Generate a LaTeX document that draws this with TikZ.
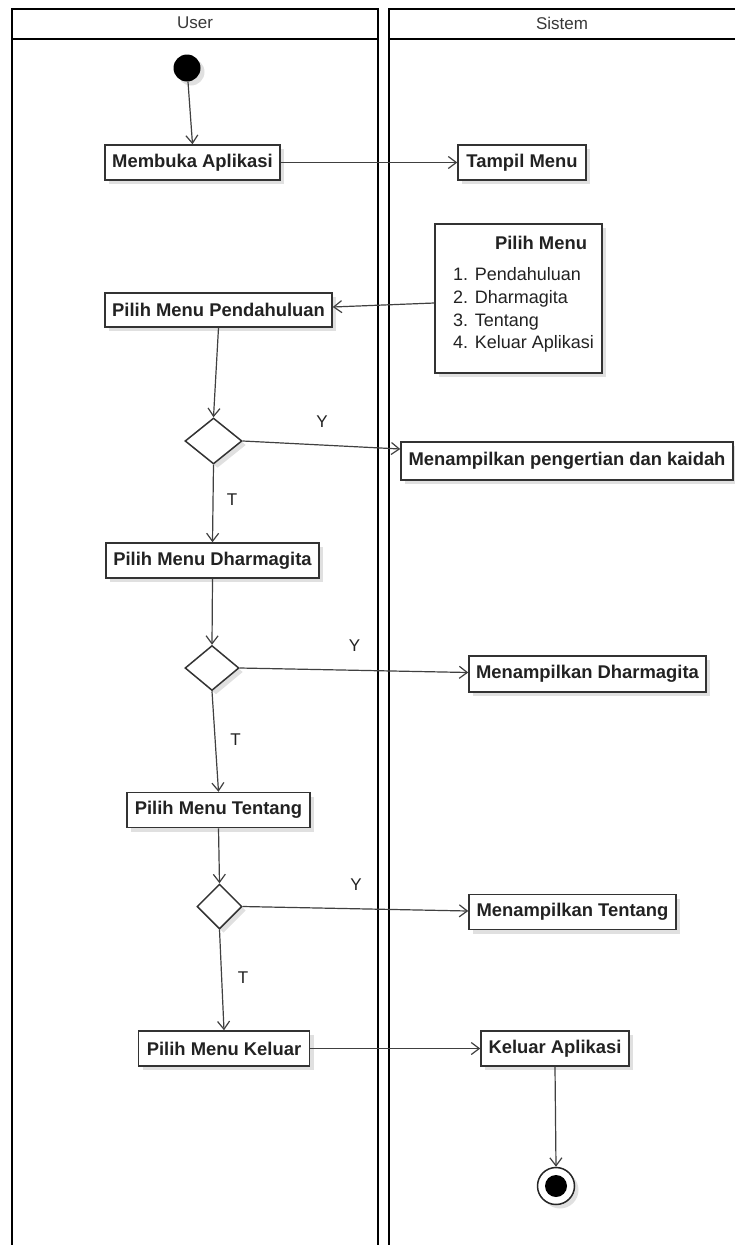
\documentclass[tikz,border=0pt]{standalone}
\usepackage{fontspec}
\setmainfont{Liberation Sans}
\usetikzlibrary{arrows.meta,shapes.geometric,shadows,calc}
\definecolor{edgecol}{HTML}{404040}
\definecolor{boxcol}{HTML}{333333}
\definecolor{txtcol}{HTML}{222222}
\begin{document}
\begin{tikzpicture}[x=1pt,y=-1pt,
  lane/.style={draw=black,line width=2.4pt},
  soft/.style={drop shadow={shadow xshift=4pt,shadow yshift=-4pt,opacity=0.12,fill=black}},
  act/.style={rectangle,draw=boxcol,line width=1.5pt,fill=white,soft,inner sep=0pt,
    font=\fontsize{18.4}{22}\selectfont\bfseries,text=txtcol},
  decision/.style={diamond,draw=boxcol,line width=1.5pt,fill=white,soft,inner sep=0pt},
  guard/.style={font=\fontsize{17}{20}\selectfont,text=txtcol,inner sep=0pt},
  lanehead/.style={font=\fontsize{17}{20}\selectfont,text=black!78,inner sep=0pt},
  flow/.style={draw=edgecol,line width=1.2pt,-{Straight Barb[length=8pt,width=12pt,line width=1.2pt]}}
]
\useasboundingbox (0,0) rectangle (735,1245);
\fill[white] (0,0) rectangle (735,1245);

% swimlanes
\draw[lane] (12,1250) -- (12,9) -- (378,9) -- (378,1250);
\draw[lane] (12,39) -- (378,39);
\draw[lane] (740,9) -- (389,9) -- (389,1250);
\draw[lane] (389,39) -- (740,39);
\node[lanehead] (hUser) at (195,23) {User};
\node[lanehead] (hSistem) at (562,23) {Sistem};

% start / end
\node[circle,fill=black,minimum size=27pt,inner sep=0pt,soft] (start) at (187,68) {};
\node[circle,draw=black!85,line width=1.5pt,fill=white,minimum size=37pt,inner sep=0pt,soft] (finish) at (556,1186) {};
\fill[black] (finish.center) circle (11);

% activities, user lane
\node[act,minimum width=175pt,minimum height=35pt] (membuka) at (192.5,162.5) {Membuka Aplikasi};
\node[act,minimum width=227pt,minimum height=34pt] (pendahuluan) at (218.5,310) {Pilih Menu Pendahuluan};
\node[decision,minimum width=57pt,minimum height=46pt] (d1) at (213.5,441) {};
\node[act,minimum width=213pt,minimum height=35pt] (dharmagita) at (212.5,560.5) {Pilih Menu Dharmagita};
\node[decision,minimum width=54pt,minimum height=45pt] (d2) at (212,668) {};
\node[act,minimum width=183pt,minimum height=35pt] (tentang) at (218.5,810) {Pilih Menu Tentang};
\node[decision,minimum width=45pt,minimum height=45pt] (d3) at (219.5,906.5) {};
\node[act,minimum width=171pt,minimum height=35pt] (keluar) at (224,1048.5) {Pilih Menu Keluar};

% activities, system lane
\node[act,minimum width=128pt,minimum height=35pt] (tampil) at (522,162.5) {Tampil Menu};
\node[act,minimum width=167pt,minimum height=149pt] (pilihmenu) at (518.5,298.5) {};
\node[font=\fontsize{18.4}{22}\selectfont\bfseries,text=txtcol,inner sep=0pt] (pmtitle) at (541,243) {Pilih Menu};
\node[font=\fontsize{18}{22.8}\selectfont,text=txtcol,inner sep=0pt,align=left,anchor=west] (pmlist) at (453,310)
  {1. Pendahuluan\\2. Dharmagita\\3. Tentang\\4. Keluar Aplikasi};
\node[act,minimum width=332pt,minimum height=38pt] (pengertian) at (567,461) {Menampilkan pengertian dan kaidah};
\node[act,minimum width=237pt,minimum height=36pt] (mdharma) at (587.5,674) {Menampilkan Dharmagita};
\node[act,minimum width=207pt,minimum height=35pt] (mtentang) at (572.5,912) {Menampilkan Tentang};
\node[act,minimum width=148pt,minimum height=35pt] (kaplikasi) at (555,1048.5) {Keluar Aplikasi};

% guard labels
\node[guard] (y1) at (322,422) {Y};
\node[guard] (t1) at (232,500) {T};
\node[guard] (y2) at (354.5,646) {Y};
\node[guard] (t2) at (235.5,740) {T};
\node[guard] (y3) at (356,885) {Y};
\node[guard] (t3) at (243,978) {T};

% control flow
\draw[flow] (start) -- (membuka.north);
\draw[flow] (membuka) -- (tampil);
\draw[flow] (pilihmenu.west |- 0,303) -- (pendahuluan.east |- 0,307);
\draw[flow] (pendahuluan.south) -- (d1.north);
\draw[flow] (d1.east) -- (pengertian.west |- 0,449);
\draw[flow] (d1.south) -- (dharmagita.north);
\draw[flow] (dharmagita.south) -- (d2.north);
\draw[flow] (d2.east) -- (mdharma.west |- 0,672.5);
\draw[flow] (d2.south) -- (tentang.north);
\draw[flow] (tentang.south) -- (d3.north);
\draw[flow] (d3.east) -- (mtentang.west |- 0,911);
\draw[flow] (d3.south) -- (keluar.north);
\draw[flow] (keluar) -- (kaplikasi);
\draw[flow] (kaplikasi.south) -- (finish.north);
\end{tikzpicture}
\end{document}
